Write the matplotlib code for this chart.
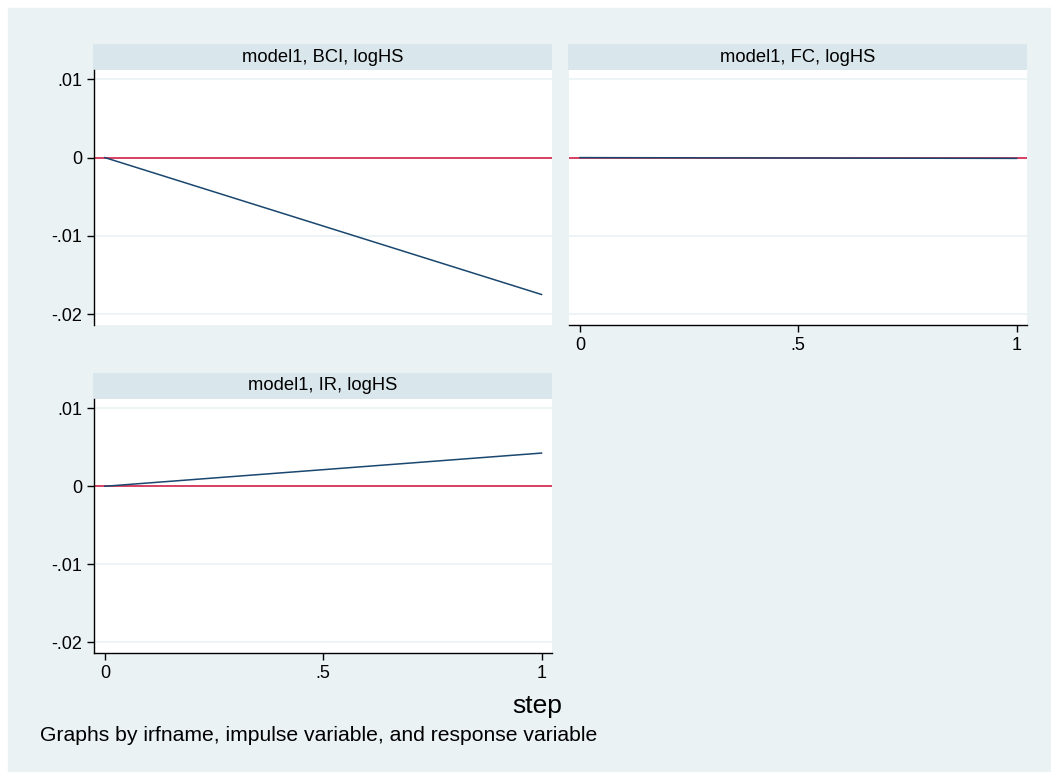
import numpy as np
import matplotlib
matplotlib.use('Agg')
import matplotlib.pyplot as plt
from matplotlib.patches import Rectangle

plt.rcParams['font.family'] = ['Liberation Sans', 'DejaVu Sans']

W, H = 1051, 772

steps = [0, 1]
titles = ['model1, BCI, logHS', 'model1, FC, logHS', 'model1, IR, logHS']
irf_bci = [0.0, -0.0175]
irf_fc = [0.0, -0.0001]
irf_ir = [0.0, 0.00426]
responses = [irf_bci, irf_fc, irf_ir]

yticks = [0.01, 0, -0.01, -0.02]
ylabels = ['.01', '0', '-.01', '-.02']
xticks = [0, 0.5, 1]
xlabels = ['0', '.5', '1']

bg = '#EAF2F3'
strip_c = '#D9E6EB'
navy = '#1A476F'
red = '#D0103A'

fig = plt.figure(figsize=(W / 100, H / 100), dpi=100, facecolor='white')
fig.patches.append(Rectangle((8 / W, 0), 1 - 8 / W, 1 - 8 / H,
                             transform=fig.transFigure, color=bg, zorder=-10))

def px_axes(x0, y0, x1, y1):
    return fig.add_axes([x0 / W, 1 - y1 / H, (x1 - x0) / W, (y1 - y0) / H])

# (left, top, right, bottom) in pixels, show y axis, show x axis
panels = [
    (94, 70, 552, 325, True, False),
    (569, 70, 1027, 325, False, True),
    (94, 399, 552, 653, True, True),
]

for (x0, y0, x1, y1, showy, showx), title, resp in zip(panels, titles, responses):
    # strip with the panel title
    sax = px_axes(x0 - 1, y0 - 26, x1, y0)
    sax.set_facecolor(strip_c)
    sax.set_xticks([])
    sax.set_yticks([])
    for s in sax.spines.values():
        s.set_visible(False)
    sax.text(0.5, 0.5, title, ha='center', va='center', fontsize=13.2)

    ax = px_axes(x0, y0, x1, y1)
    ax.set_facecolor('white')
    ax.set_xlim(-0.025, 1.024)
    ax.set_ylim(-0.0214, 0.0112)
    for yt in yticks:
        ax.axhline(yt, color=bg, lw=1.2, zorder=0)
    ax.axhline(0, color=red, lw=1.1, zorder=2)
    ax.plot(steps, resp, color=navy, lw=1.1, zorder=3)

    for s in ['top', 'right']:
        ax.spines[s].set_visible(False)
    ax.spines['left'].set_visible(showy)
    ax.spines['bottom'].set_visible(showx)
    ax.spines['left'].set_linewidth(1.0)
    ax.spines['bottom'].set_linewidth(1.0)
    if showy:
        ax.set_yticks(yticks)
        ax.set_yticklabels(ylabels)
    else:
        ax.set_yticks([])
    if showx:
        ax.set_xticks(xticks)
        ax.set_xticklabels(xlabels)
    else:
        ax.set_xticks([])
    ax.tick_params(labelsize=13, length=5, width=1.0, pad=3.5)

fig.text(537 / W, 1 - 713 / H, 'step', ha='center', va='baseline', fontsize=19)
fig.text(40 / W, 1 - 741 / H, 'Graphs by irfname, impulse variable, and response variable',
         ha='left', va='baseline', fontsize=15.2)

fig.savefig('out.png', dpi=100, facecolor=fig.get_facecolor())
